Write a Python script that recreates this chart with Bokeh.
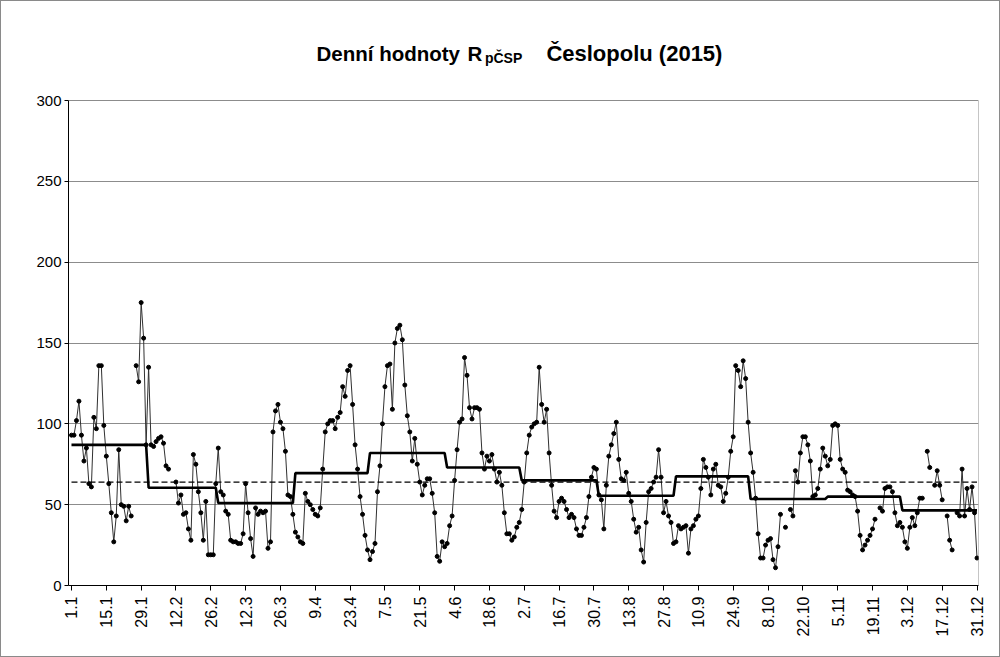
import math
from bokeh.plotting import figure
from bokeh.models import FixedTicker, Range1d, Label
from bokeh.embed import file_html
from bokeh.resources import INLINE

nan = float("nan")

# daily values 2015 (one list per month)
jan = [93, 93, 102, 114, 93, 77, 85, 63, 61, 104, 97, 136, 136, 99, 80, 63, 45, 27, 43, 84,
       50, 49, 40, 49, 43, nan, 136, 126, 175, 153, 87]
feb = [135, 87, 86, 89, 91, 92, 88, 74, 72, nan, nan, 64, 51, 56, 44, 45, 35, 28, 81, 75,
       58, 45, 28, 52, 19, 19, 19, 63]
mar = [85, 58, 56, 46, 44, 28, 27, 27, 26, 26, 32, 63, 45, 29, 18, 48, 44, 46, 45, 46,
       23, 27, 95, 108, 112, 101, 97, 83, 56, 55, 44]
apr = [33, 30, 27, 26, 57, 52, 50, 47, 44, 43, 48, 72, 95, 100, 102, 102, 97, 104, 107, 123,
       117, 133, 136, 112, 87, 72, 55, 44, 31, 22]
may = [16, 21, 26, 58, 74, 100, 123, 136, 137, 109, 150, 159, 161, 152, 124, 105, 95, 77, 91, 75,
       64, 56, 62, 66, 66, 57, 45, 18, 15, 27, 24]
jun = [26, 37, 43, 65, 84, 101, 103, 141, 130, 110, 103, 110, 110, 109, 82, 72, 80, 77, 81, 72,
       64, 70, 62, 45, 32, 32, 28, 30, 36, 39]
jul = [47, 64, 82, 93, 98, 100, 101, 135, 112, 101, 109, 82, 62, 46, 42, 52, 54, 52, 47, 42,
       44, 42, 35, 31, 31, 36, 42, 55, 67, 73, 72]
aug = [56, 53, 35, 62, 80, 87, 94, 101, 78, 66, 65, 70, 57, 52, 41, 33, 36, 22, 14.5, 39,
       58, 60, 64, 67, 84, 67, 45, 52, 43, 39, 26]
sep = [27, 37, 35, 36, 37, 20, 35, 37, 41, 43, 60, 78, 73, 67, 56, 72, 75, 62, 61, 52,
       57, 67, 83, 92, 136, 133, 123, 139, 128, 101]
oct_ = [82, 70, 54, 32, 17, 17, 25, 28, 29, 16, 11, 24, 44, nan, 36, nan, 47, 43, 71, 64,
        82, 92, 92, 87, 77, 55, 56, 60, 72, 85, 80]
nov = [74, 78, 99, 100, 99, 78, 72, 70, 59, 58, 56, 55, 46, 31, 22, 25, 28, 31, 35, 41,
       nan, 48, 46, 60, 61, 61, 58, 45, 37, 39]
dec = [36, 27, 23, 36, 42, 37, 45, 54, 54, nan, 83, 73, nan, 62, 71, 62, 53, nan, 43, 28,
       22, nan, 45, 43, 72, 43, 60, 47, 61, 45, 17]

monthly_mean = [87, 60.5, 51, 69.5, 82, 73, 65, 55.5, 67.5, 53.5, 55, 46.5]
annual_mean = 64

tick_labels = ["1.1", "15.1", "29.1", "12.2", "26.2", "12.3", "26.3", "9.4", "23.4", "7.5",
               "21.5", "4.6", "18.6", "2.7", "16.7", "30.7", "13.8", "27.8", "10.9", "24.9",
               "8.10", "22.10", "5.11", "19.11", "3.12", "17.12", "31.12"]
y_ticks = [0, 50, 100, 150, 200, 250, 300]

months = [jan, feb, mar, apr, may, jun, jul, aug, sep, oct_, nov, dec]
daily = [v for m in months for v in m]
days = list(range(1, len(daily) + 1))
mean_series = [mv for m, mv in zip(months, monthly_mean) for _ in m]

Y_TOP = y_ticks[-1]
# frame extends above the value axis to hold the title
y_end = Y_TOP * 565 / 485
x_start, x_end = -0.2, 365.6

p = figure(width=1000, height=657, x_range=Range1d(x_start, x_end), y_range=Range1d(0, y_end),
           output_backend="svg", toolbar_location=None,
           min_border_left=68, min_border_right=22, min_border_top=20, min_border_bottom=72)
p.background_fill_color = "white"
p.border_fill_color = None
p.outline_line_color = None
p.styles = {"box-shadow": "inset 0 0 0 1px #8a8a8a", "background-color": "white"}

# axes
p.xaxis.ticker = FixedTicker(ticks=[1 + 14 * i for i in range(len(tick_labels))])
p.xaxis.major_label_overrides = {1 + 14 * i: t for i, t in enumerate(tick_labels)}
p.xaxis.major_label_orientation = math.pi / 2
p.xaxis.major_label_text_font = "Liberation Sans"
p.xaxis.major_label_text_font_size = "16px"
p.xaxis.major_label_text_color = "black"
p.xaxis.major_label_standoff = 6
p.xaxis.major_tick_out = 5
p.xaxis.major_tick_in = 0
p.xaxis.minor_tick_out = 0
p.xaxis.axis_line_color = "black"
p.xaxis.major_tick_line_color = "black"

p.yaxis.ticker = FixedTicker(ticks=y_ticks)
p.yaxis.bounds = (0, Y_TOP)
p.yaxis.major_label_text_font = "Liberation Sans"
p.yaxis.major_label_text_font_size = "15px"
p.yaxis.major_label_text_color = "black"
p.yaxis.major_label_standoff = 3
p.yaxis.major_tick_out = 4
p.yaxis.major_tick_in = 0
p.yaxis.minor_tick_out = 0
p.yaxis.minor_tick_in = 0
p.yaxis.axis_line_color = "black"
p.yaxis.major_tick_line_color = "black"

p.xgrid.grid_line_color = None
p.ygrid.ticker = FixedTicker(ticks=y_ticks[1:])
p.ygrid.grid_line_color = "#8c8c8c"
p.ygrid.grid_line_width = 1

# right border of the plot area
p.segment(x0=[x_end], y0=[0], x1=[x_end], y1=[Y_TOP], line_color="#8c8c8c", line_width=1)

# series
p.line(days, daily, line_color="#303030", line_width=1)
p.scatter(days, daily, size=4, marker="circle", fill_color="black", line_color="black")
p.line(days, mean_series, line_color="black", line_width=2.6)
p.line([days[0], days[-1]], [annual_mean, annual_mean], line_color="black", line_width=1.3,
       line_dash="6 3")

# title (with subscript)
common = dict(x_units="data", y_units="data", text_font="Liberation Sans",
              text_font_style="bold", text_color="black", text_baseline="alphabetic",
              text_align="left")
p.add_layout(Label(x=99.5, y=329.3, text="Denní hodnoty", text_font_size="20.5px", **common))
p.add_layout(Label(x=160.2, y=329.3, text="R", text_font_size="20.5px", **common))
p.add_layout(Label(x=167.2, y=326.3, text="pČSP", text_font_size="14px", **common))
p.add_layout(Label(x=191.9, y=329.3, text="Česlopolu (2015)", text_font_size="22px", **common))

open("out.html", "w").write(file_html(p, INLINE))
